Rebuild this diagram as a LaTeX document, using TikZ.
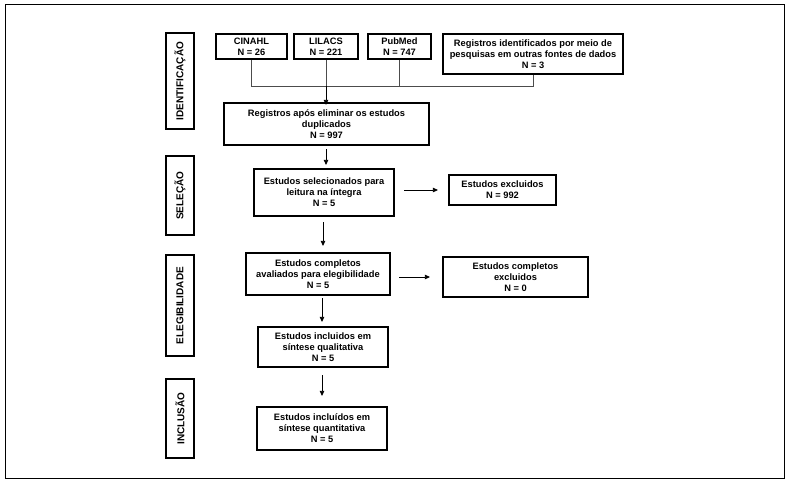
\documentclass[tikz,border=0pt]{standalone}
\usepackage{fontspec}
\setmainfont{Liberation Sans}
\usetikzlibrary{arrows.meta}
\begin{document}
\begin{tikzpicture}[x=1pt,y=-1pt,
  box/.style={draw, line width=2.2pt, align=center, inner sep=0pt,
    font=\fontsize{9.3}{11}\selectfont\bfseries},
  phase/.style={draw, line width=2.2pt, inner sep=0pt, minimum width=28pt,
    font=\fontsize{10}{11}\selectfont\bfseries},
  conn/.style={line width=0.7pt, draw=black!70},
  arr/.style={line width=0.8pt, -{Triangle[length=5pt,width=4.5pt]}}]
\useasboundingbox (0,0) rectangle (791,482);
\draw[line width=0.9pt] (5,4) rectangle (784,478);
% phase labels
\node[phase, minimum height=96pt] (pid) at (180,81) {\rotatebox{90}{IDENTIFICAÇÃO}};
\node[phase, minimum height=79pt] (psel) at (180,195.5) {\rotatebox{90}{SELEÇÃO}};
\node[phase, minimum height=101pt] (pel) at (180,305.5) {\rotatebox{90}{ELEGIBILIDADE}};
\node[phase, minimum height=79pt] (pinc) at (180,418.5) {\rotatebox{90}{INCLUSÃO}};
% boxes
\node[box, minimum width=71pt, minimum height=25pt] (cinahl) at (251.5,46.5) {CINAHL\\N = 26};
\node[box, minimum width=64pt, minimum height=25pt] (lilacs) at (326,46.5) {LILACS\\N = 221};
\node[box, minimum width=63pt, minimum height=25pt] (pubmed) at (399.5,46.5) {PubMed\\N = 747};
\node[box, minimum width=180pt, minimum height=40pt] (outras) at (533,54) {Registros identificados por meio de\\pesquisas em outras fontes de dados\\N = 3};
\node[box, minimum width=205pt, minimum height=42pt] (apos) at (326.5,124) {Registros após eliminar os estudos\\duplicados\\N = 997};
\node[box, minimum width=140pt, minimum height=47pt] (sel) at (324,192.5) {Estudos selecionados para\\leitura na íntegra\\N = 5};
\node[box, minimum width=107pt, minimum height=30pt] (exc1) at (502.5,190) {Estudos excluidos\\N = 992};
\node[box, minimum width=144pt, minimum height=42pt] (aval) at (318,274) {Estudos completos\\avaliados para elegibilidade\\N = 5};
\node[box, minimum width=145pt, minimum height=40pt] (exc2) at (515.5,277) {Estudos completos\\excluidos\\N = 0};
\node[box, minimum width=130pt, minimum height=40pt] (qual) at (323,347) {Estudos incluidos em\\síntese qualitativa\\N = 5};
\node[box, minimum width=130pt, minimum height=43pt] (quant) at (322,428.5) {Estudos incluídos em\\síntese quantitativa\\N = 5};
% merge connectors
\coordinate (m) at (326,86);
\draw[conn] (cinahl.south) |- (outras.south|-m) -- (outras.south);
\draw[conn] (lilacs.south) -- (lilacs.south|-m);
\draw[conn] (pubmed.south) -- (pubmed.south|-m);
\draw[arr] (m) -- ([yshift=-3pt]m|-apos.north);
% flow arrows
\draw[arr, shorten <=3pt, shorten >=3pt] (apos.south-|m) -- (m|-sel.north);
\draw[arr, shorten <=5pt, shorten >=6pt] ([xshift=-1pt]sel.south) -- ([xshift=-1pt]sel.south|-aval.north);
\draw[arr, shorten <=2pt, shorten >=4pt] ([xshift=4pt]aval.south) -- ([xshift=4pt]aval.south|-qual.north);
\draw[arr, shorten <=7pt, shorten >=10pt] ([xshift=-1pt]qual.south) -- ([xshift=-1pt]qual.south|-quant.north);
\draw[arr, shorten <=9pt, shorten >=10pt] (sel.east|-exc1.west) -- (exc1.west);
\draw[arr, shorten <=8pt, shorten >=12pt] ([yshift=-3pt]aval.east) -- ([yshift=-3pt]aval.east-|exc2.west);
\end{tikzpicture}
\end{document}
